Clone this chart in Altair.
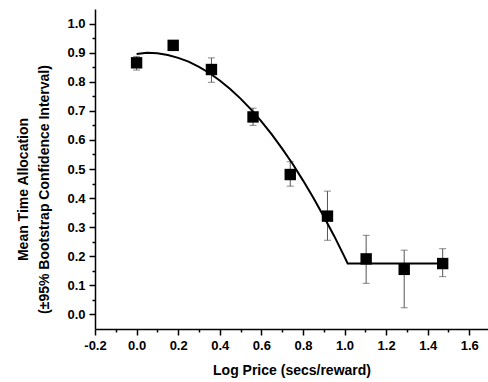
import altair as alt
import pandas as pd

# Mean time allocation at each log price, with 95% bootstrap bounds
log_price = [0.0, 0.176, 0.36, 0.56, 0.739, 0.918, 1.104, 1.287, 1.472]
mean_alloc = [0.865, 0.925, 0.842, 0.679, 0.481, 0.338, 0.191, 0.155, 0.175]
ci_low = [0.840, 0.912, 0.798, 0.650, 0.441, 0.255, 0.107, 0.023, 0.130]
ci_high = [0.887, 0.937, 0.882, 0.709, 0.525, 0.424, 0.272, 0.221, 0.226]

# Fitted demand curve (declining limb, then flat floor)
fit_x = [0.0, 0.05, 0.10, 0.15, 0.20, 0.25, 0.30, 0.35, 0.40, 0.45, 0.50,
         0.55, 0.60, 0.65, 0.70, 0.75, 0.80, 0.85, 0.90, 0.95, 1.00, 1.015, 1.49]
fit_y = [0.895, 0.900, 0.898, 0.892, 0.882, 0.869, 0.851, 0.830, 0.804, 0.775, 0.742,
         0.705, 0.664, 0.619, 0.570, 0.518, 0.461, 0.401, 0.337, 0.270, 0.198, 0.175, 0.175]

# Axis tick positions: labelled (major) and unlabelled (minor)
x_major = [-0.2, 0.0, 0.2, 0.4, 0.6, 0.8, 1.0, 1.2, 1.4, 1.6]
x_minor = [-0.1, 0.1, 0.3, 0.5, 0.7, 0.9, 1.1, 1.3, 1.5]
y_major = [0.0, 0.1, 0.2, 0.3, 0.4, 0.5, 0.6, 0.7, 0.8, 0.9, 1.0]
y_minor = [0.05, 0.15, 0.25, 0.35, 0.45, 0.55, 0.65, 0.75, 0.85, 0.95]

points = pd.DataFrame({"x": log_price, "y": mean_alloc, "lo": ci_low, "hi": ci_high})
fit = pd.DataFrame({"x": fit_x, "y": fit_y})

FONT = "Liberation Sans"

x_scale = alt.Scale(domain=[-0.2, 1.69], nice=False, zero=False)
y_scale = alt.Scale(domain=[-0.05, 1.05], nice=False, zero=False)

# Shared axis styling
axis_style = dict(
    grid=False,
    domainColor="black", domainWidth=1.5,
    tickColor="black", tickWidth=1.5,
    labelFont=FONT, labelFontSize=13, labelFontWeight="bold", labelColor="black",
    labelFlush=False, labelOverlap=False,
    titleFont=FONT, titleFontSize=14, titleFontWeight="bold", titleColor="black",
)

x_axis = alt.Axis(
    orient="bottom",
    values=x_major,
    tickSize=6,
    labelPadding=4,
    labelExpr="replace(format(datum.value, '.1f'), '\u2212', '-')",
    title="Log Price (secs/reward)",
    titleBaseline="middle", titleY=41,
    **axis_style,
)

y_axis = alt.Axis(
    orient="left",
    values=y_major,
    tickSize=6,
    labelPadding=4,
    labelExpr="format(datum.value, '.1f')",
    title=["Mean Time Allocation", "(\u00b195% Bootstrap Confidence Interval)"],
    titleLineHeight=21, titleBaseline="middle", titleX=-72, titleY=180,
    **axis_style,
)

X = alt.X("x:Q", scale=x_scale, axis=x_axis)

base = alt.Chart(points)

errbars = base.mark_errorbar(
    ticks=alt.TickConfig(size=7, color="#555555", strokeWidth=1),
    rule=alt.LineConfig(color="#555555", strokeWidth=1),
).encode(
    x=X,
    y=alt.Y("lo:Q", scale=y_scale, axis=y_axis),
    y2="hi:Q",
)

curve = alt.Chart(fit).mark_line(color="black", strokeWidth=2).encode(
    x=X,
    y=alt.Y("y:Q", scale=y_scale, axis=y_axis),
)

markers = base.mark_square(size=130, color="black", opacity=1).encode(
    x=X,
    y=alt.Y("y:Q", scale=y_scale, axis=y_axis),
)

# Short unlabelled minor ticks, drawn by an extra axis on an empty layer
minor = alt.Chart(pd.DataFrame({"x": x_minor[:1], "y": y_minor[:1]})).mark_point(opacity=0).encode(
    x=alt.X("x:Q", scale=x_scale, axis=alt.Axis(
        orient="bottom", values=x_minor, labels=False, domain=False, grid=False,
        title=None, tickSize=3, tickColor="black", tickWidth=1.5)),
    y=alt.Y("y:Q", scale=y_scale, axis=alt.Axis(
        orient="left", values=y_minor, labels=False, domain=False, grid=False,
        title=None, tickSize=3, tickColor="black", tickWidth=1.5)),
)

main = alt.layer(errbars, curve, markers)

chart = alt.layer(minor, main).resolve_axis(x="independent", y="independent").properties(
    width=393,
    height=320,
    autosize=alt.AutoSizeParams(type="none"),
    padding={"left": 95, "top": 9, "right": 0, "bottom": 53},
    background="white",
).configure_view(stroke=None).configure_axis(labelOverlap=False)

chart.save("out.html", embed_options={"renderer": "svg", "actions": False})
